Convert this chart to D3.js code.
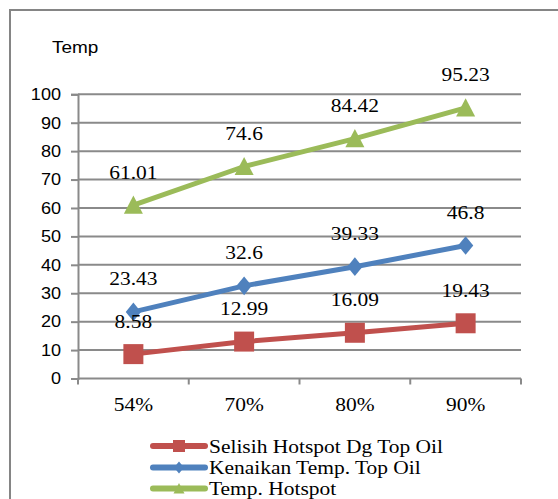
<!DOCTYPE html>
<html>
<head>
<meta charset="utf-8">
<script src="https://cdn.jsdelivr.net/npm/d3@7/dist/d3.min.js"></script>
<style>
  html, body { margin: 0; padding: 0; background: #fff; }
  svg { display: block; }
</style>
</head>
<body>
<svg id="chart" width="558" height="499"></svg>
<script>
// Load levels and temperatures
const categories = ["54%", "70%", "80%", "90%"];
const selisih = [8.58, 12.99, 16.09, 19.43];
const kenaikan = [23.43, 32.6, 39.33, 46.8];
const hotspot = [61.01, 74.6, 84.42, 95.23];
const yTicks = [0, 10, 20, 30, 40, 50, 60, 70, 80, 90, 100];
const seriesNames = ["Selisih Hotspot Dg Top Oil", "Kenaikan Temp. Top Oil", "Temp. Hotspot"];
const axisTitle = "Temp";

const series = [
  { name: seriesNames[0], values: selisih, color: "#C0504D", marker: "square" },
  { name: seriesNames[1], values: kenaikan, color: "#4F81BD", marker: "diamond" },
  { name: seriesNames[2], values: hotspot, color: "#9BBB59", marker: "triangle" }
];

const svg = d3.select("#chart");
const serif = "'Liberation Serif', 'Times New Roman', serif";
const sans = "'Liberation Sans', Arial, sans-serif";
const stretch = 1.16;
const grid = "#8a8a8a";

// Outer chart frame
svg.append("rect")
  .attr("x", 10).attr("y", 10).attr("width", 560).attr("height", 500)
  .attr("fill", "none").attr("stroke", "#858585").attr("stroke-width", 2);

const plot = { left: 78, right: 521, top: 94.3, bottom: 378.5 };

const x = d3.scaleBand().domain(categories).range([plot.left, plot.right]);
const y = d3.scaleLinear().domain([0, 100]).range([plot.bottom, plot.top]);

// Text drawn slightly widened horizontally
function label(g, tx, ty, str, opts) {
  return g.append("text")
    .attr("transform", `translate(${tx},${ty}) scale(${opts.sx || stretch},1)`)
    .attr("text-anchor", opts.anchor || "middle")
    .attr("font-family", opts.font || serif)
    .attr("font-size", opts.size || 18.5)
    .attr("fill", "#000")
    .text(str);
}

// Horizontal gridlines
svg.append("g").selectAll("line").data(yTicks.filter(d => d > 0)).join("line")
  .attr("x1", plot.left).attr("x2", plot.right)
  .attr("y1", d => y(d)).attr("y2", d => y(d))
  .attr("stroke", grid).attr("stroke-width", 2);

// Y axis
const yAxis = svg.append("g").attr("transform", `translate(${plot.left},0)`)
  .call(d3.axisLeft(y).tickValues(yTicks).tickSize(7).tickFormat(""));
yAxis.select(".domain").attr("stroke", grid).attr("stroke-width", 2);
yAxis.selectAll(".tick line").attr("stroke", grid).attr("stroke-width", 2);
const yLab = svg.append("g");
yTicks.forEach(v => label(yLab, 61, y(v) + 5.8, String(v), { anchor: "end", font: sans, size: 16, sx: 1.13 }));

// X axis with tick marks at band boundaries
const xAxis = svg.append("g").attr("transform", `translate(0,${plot.bottom})`);
xAxis.append("line").attr("x1", plot.left).attr("x2", plot.right)
  .attr("stroke", grid).attr("stroke-width", 2);
const bounds = categories.map(c => x(c)).concat([plot.right]);
xAxis.selectAll("line.tk").data(bounds).join("line").attr("class", "tk")
  .attr("x1", d => d).attr("x2", d => d).attr("y1", 0).attr("y2", 6)
  .attr("stroke", grid).attr("stroke-width", 2);
const xLab = svg.append("g");
categories.forEach(c => label(xLab, x(c) + x.bandwidth() / 2, 411, c, {}));

// Axis title
label(svg.append("g"), 52, 53, axisTitle, { anchor: "start", font: sans, size: 16.5, sx: 1.15 });

// Marker shapes
function markerPath(type, s) {
  if (type === "square") return `M${-s/2},${-s/2}h${s}v${s}h${-s}Z`;
  if (type === "diamond") return `M0,${-s*0.55}L${s*0.45},0L0,${s*0.55}L${-s*0.45},0Z`;
  return `M0,${-s*0.5}L${s*0.5},${s*0.45}L${-s*0.5},${s*0.45}Z`;
}
const markerSize = { square: 20, diamond: 17, triangle: 19 };

const cx = c => x(c) + x.bandwidth() / 2;
const line = d3.line().x((d, i) => cx(categories[i])).y(d => y(d));

// Series lines and markers
series.forEach(s => {
  svg.append("path").datum(s.values).attr("d", line)
    .attr("fill", "none").attr("stroke", s.color).attr("stroke-width", 5)
    .attr("stroke-linejoin", "round");
  svg.append("g").selectAll("path").data(s.values).join("path")
    .attr("transform", (d, i) => `translate(${cx(categories[i])},${y(d)})`)
    .attr("d", markerPath(s.marker, markerSize[s.marker]))
    .attr("fill", s.color);
});

// Value labels above points
const vLab = svg.append("g");
series.forEach(s => {
  s.values.forEach((v, i) => label(vLab, cx(categories[i]), y(v) - 26.5, String(v), {}));
});

// Legend
const legend = svg.append("g");
const legendY = [446, 467.5, 488.5];
series.forEach((s, i) => {
  const ly = legendY[i];
  legend.append("line").attr("x1", 153).attr("x2", 205).attr("y1", ly).attr("y2", ly)
    .attr("stroke", s.color).attr("stroke-width", 6).attr("stroke-linecap", "round");
  legend.append("path").attr("transform", `translate(179,${ly})`)
    .attr("d", markerPath(s.marker, s.marker === "square" ? 12 : 11))
    .attr("fill", s.color);
  label(legend, 209, ly + 6.5, s.name, { anchor: "start" });
});
</script>
</body>
</html>
